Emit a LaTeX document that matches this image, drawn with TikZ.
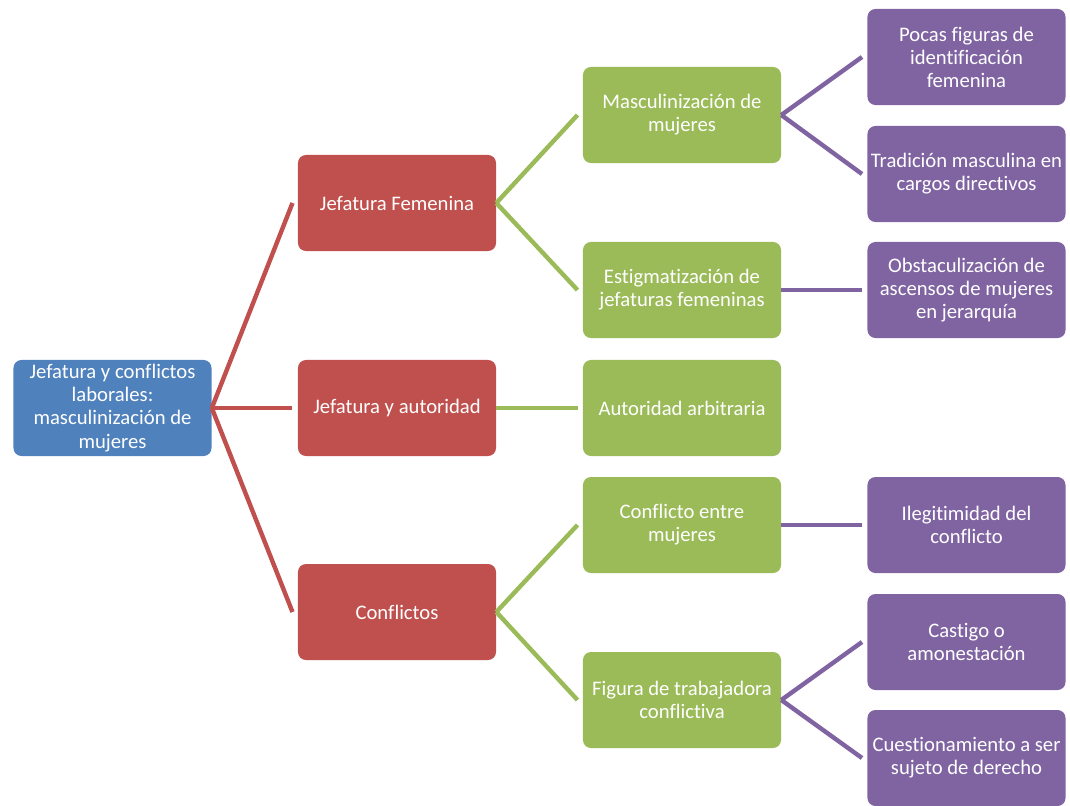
\documentclass[tikz,border=0pt]{standalone}
\usepackage{fontspec}
\setmainfont{Carlito}[Ligatures=CommonOff]
\usetikzlibrary{positioning}

\definecolor{rootblue}{HTML}{4F81BD}
\definecolor{catred}{HTML}{C0504D}
\definecolor{subgreen}{HTML}{9BBB59}
\definecolor{leafpurple}{HTML}{8064A2}

\begin{document}
\begin{tikzpicture}[x=0.025cm,y=-0.025cm,
	box/.style={rounded corners=0.2cm, minimum width=4.95cm, minimum height=2.4cm,
		inner sep=2pt, text=white, align=center, font=\fontsize{14.7}{16.4}\selectfont},
	link/.style={line width=0.11cm}]
				% Fix the page to the reference size (pixels).
				\useasboundingbox (0,0) rectangle (1070,805);
				
				% Column centres.
				\def\cone{112.5}     %root column.
				\def\ctwo{397}       %first level.
				\def\cthree{682}     %second level.
				\def\cfour{966.5}    %third level.
				\def\gap{0.13cm}     %space left before a child box.
				
				% Root
				\node[box,fill=rootblue] (root) at (\cone,408) {Jefatura y conflictos\\laborales:\\masculinización de\\mujeres};
				
				% First level
				\node[box,fill=catred] (jfem) at (\ctwo,203) {Jefatura Femenina};
				\node[box,fill=catred] (jaut) at (\ctwo,408) {Jefatura y autoridad};
				\node[box,fill=catred] (conf) at (\ctwo,612) {Conflictos};
				
				% Second level
				\node[box,fill=subgreen] (masc) at (\cthree,115) {Masculinización de\\mujeres};
				\node[box,fill=subgreen] (estig) at (\cthree,290) {Estigmatización de\\jefaturas femeninas};
				\node[box,fill=subgreen] (arbi) at (\cthree,408) {Autoridad arbitraria};
				\node[box,fill=subgreen] (entre) at (\cthree,525) {Conflicto entre\\mujeres};
				\node[box,fill=subgreen] (figura) at (\cthree,700) {Figura de trabajadora\\conflictiva};
				
				% Third level
				\node[box,fill=leafpurple] (pocas) at (\cfour,57) {Pocas figuras de\\identificación\\femenina};
				\node[box,fill=leafpurple] (tradi) at (\cfour,174) {Tradición masculina en\\cargos directivos};
				\node[box,fill=leafpurple] (obsta) at (\cfour,290) {Obstaculización de\\ascensos de mujeres\\en jerarquía};
				\node[box,fill=leafpurple] (ilegi) at (\cfour,525) {Ilegitimidad del\\conflicto};
				\node[box,fill=leafpurple] (casti) at (\cfour,642) {Castigo o\\amonestación};
				\node[box,fill=leafpurple] (cuest) at (\cfour,758) {Cuestionamiento a ser\\sujeto de derecho};
				
				% Connectors, coloured after the child level.
				\foreach \c in {jfem,jaut,conf}
					\draw[link,catred] (root.east) -- ([xshift=-\gap]\c.west);
				\foreach \c in {masc,estig}
					\draw[link,subgreen] (jfem.east) -- ([xshift=-\gap]\c.west);
				\draw[link,subgreen] (jaut.east) -- ([xshift=-\gap]arbi.west);
				\foreach \c in {entre,figura}
					\draw[link,subgreen] (conf.east) -- ([xshift=-\gap]\c.west);
				\foreach \c in {pocas,tradi}
					\draw[link,leafpurple] (masc.east) -- ([xshift=-\gap]\c.west);
				\draw[link,leafpurple] (estig.east) -- ([xshift=-\gap]obsta.west);
				\draw[link,leafpurple] (entre.east) -- ([xshift=-\gap]ilegi.west);
				\foreach \c in {casti,cuest}
					\draw[link,leafpurple] (figura.east) -- ([xshift=-\gap]\c.west);
				
\end{tikzpicture}
\end{document}
